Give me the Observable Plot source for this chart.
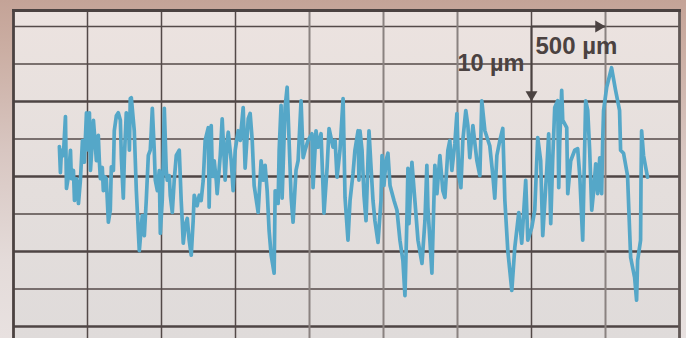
<!DOCTYPE html>
<html>
<head>
<meta charset="utf-8">
<script src="https://cdn.jsdelivr.net/npm/d3@7"></script>
<script src="https://cdn.jsdelivr.net/npm/@observablehq/plot@0.6"></script>
<style>
  html, body { margin: 0; padding: 0; }
  body {
    width: 686px; height: 338px; overflow: hidden;
    background: linear-gradient(180deg, #c4a397 0px, #cbaea3 50px, #d8c6c1 150px, #e4dbd9 260px, #e8e1e0 338px);
  }
  #chart svg { display: block; }
</style>
</head>
<body>
<div id="chart"></div>
<script>
// Surface profile: position along the scan (µm) and height (µm)
const profileX = [310,317,324,337,351,358,371,385,391,405,412,425,439,452,466,479,493,506,513,520,533,540,553,560,573,580,587,600,607,614,627,634,641,654,661,675,681,695,708,722,729,742,749,762,776,783,789,796,816,830,843,850,870,884,897,911,924,931,938,951,958,972,985,992,1005,1012,1019,1032,1039,1053,1059,1073,1086,1100,1120,1133,1140,1147,1160,1174,1187,1201,1214,1221,1241,1255,1268,1282,1295,1316,1322,1329,1336,1343,1349,1356,1370,1376,1397,1410,1424,1430,1444,1451,1471,1484,1498,1518,1532,1552,1565,1586,1599,1613,1626,1653,1673,1687,1700,1714,1727,1741,1761,1768,1788,1795,1808,1815,1835,1849,1862,1876,1889,1909,1923,1943,1957,1970,1990,2017,2024,2044,2058,2078,2098,2119,2132,2159,2173,2186,2206,2227,2240,2260,2274,2294,2307,2328,2334,2341,2355,2368,2382,2395,2402,2415,2429,2442,2463,2483,2490,2503,2517,2530,2544,2571,2591,2611,2631,2645,2658,2665,2672,2692,2712,2733,2760,2780,2793,2800,2827,2847,2861,2881,2901,2915,2935,2948,2962,2982,2996,3009,3023,3036,3056,3070,3083,3104,3131,3151,3158,3164,3185,3218,3239,3252,3266,3286,3306,3320,3340,3367,3387,3414,3434,3461,3475,3502,3522,3542,3562,3576,3603,3616,3630,3643,3657,3677,3684,3691,3704,3711,3738,3745,3765,3792,3812,3826,3846,3866,3880,3893,3907,3920,3934,3947,3961,3974,3981,3987,4008,4041,4068,4095,4102,4122,4149,4163,4170,4197,4210,4217,4237,4240,4244,4257,4284];
const profileZ = [4.0,0.5,3.5,2.8,8.0,-1.6,0,3.5,-0.3,0.8,-3.2,-0.3,-3.6,-0.5,4.8,1.9,8.5,3.5,8.5,0.8,4.8,7.5,4.1,2.1,5.5,2.1,-0.3,1.2,-1.9,0,-0.3,-3.2,-6.1,-4.5,1.3,0.8,6.1,8.1,8.5,7.5,2.4,-2.9,2.4,8.5,7.9,3.5,10.4,10.5,6.1,-1.9,-7.2,-9.9,-5.2,-7.9,-3.2,2.8,3.5,6.1,9.1,3.5,-0.5,-1.9,0.8,-7.6,-3.2,2.1,9.1,0.8,-0.5,0.1,-2.5,-4.8,-0.5,2.8,3.5,-3.2,-5.9,-8.9,-6.5,-5.6,-8.5,-10.5,-5.9,-2.5,-3.9,-2.5,-3.2,-0.5,4.8,6.5,-4.1,3.5,6.8,0.8,0,2.1,-0.5,-2.3,2.8,7.7,2.1,-0.5,4.8,5.9,2.1,-1.9,3.5,6.1,4.8,9.2,1.1,7.7,8.4,4.8,-1.2,-4.8,2.1,-0.5,1.5,-1.9,-7.2,-10.5,-12.9,-1.9,-3.6,3.5,9.5,-2.9,9.2,11.9,4.8,-2.8,-6.1,0.8,2.1,10.1,2.5,3.5,4.8,5.7,-1.5,6.1,3.9,5.7,-4.9,1.2,6.4,3.9,4.8,-0.1,3.5,10.4,-2.8,-8.5,-3.2,0.4,3.5,6.1,-0.5,6.1,3.5,-2.5,-5.9,2.1,6.1,1.5,-3.2,-5.9,-8.8,-3.2,2.8,-1.2,2.1,3.1,-1.2,-3.2,-4.5,-8.5,-11.2,-15.9,-5.9,1.1,-6.3,1.9,-3.2,-8.5,-11.6,-5.9,1.5,-4.1,-12.9,1.5,-2.3,2.8,-1.9,-2.8,3.5,4.8,0.8,4.4,8.4,0.1,-1.5,4.8,8.8,6.8,2.5,6.8,2.1,0.1,5.5,10.1,6.1,4.1,0.1,-2.9,2.8,4.8,6.4,-3.2,-9.9,-15.2,-9.5,-4.8,-8.9,-0.5,-8.5,-6.8,-4.5,5.2,2.1,-7.9,0.8,5.7,-6.3,2.1,9.2,10.1,-1.5,4.8,11.5,7.5,6.5,-2.3,2.1,3.5,3.7,0.1,-8.5,10.1,8.8,3.5,-4.5,-1.9,1.7,-2.3,2.5,-2.3,4.8,8.8,11.9,14.5,11.5,8.8,3.5,3.1,0.1,-7.2,-10.8,-13.5,-16.5,-11.2,-8.5,-0.5,6.1,2.8,-0.1];

// Grid (µm)
const xGridDark = [500, 1000, 1500, 3500];
const xGridLight = [2000, 2500, 3000, 4000];
const xEdges = [0, 4500];
const zGridMajor = [10, 0, -10, -20];
const zGridMinor = [20, 15, 5, -5, -15];

// Scale bar: corner position, horizontal and vertical lengths (µm)
const scaleBar = [{x: 3500, z: 20, dx: 500, dz: 10}];
const scaleLabels = ["500 µm", "10 µm"];

const profile = profileX.map((x, i) => ({x, z: profileZ[i]}));

const defs = () => {
  const d = d3.create("svg:defs");
  const g = d.append("linearGradient").attr("id", "paper")
    .attr("x1", 0).attr("y1", 0).attr("x2", 0).attr("y2", 1);
  g.append("stop").attr("offset", "0%").attr("stop-color", "#ece3e0");
  g.append("stop").attr("offset", "55%").attr("stop-color", "#e4dedc");
  g.append("stop").attr("offset", "100%").attr("stop-color", "#dfdbda");
  return d.node();
};

const ink = "#4b4241";
const font = "Liberation Sans, Arial, Helvetica, sans-serif";

const chart = Plot.plot({
  width: 686,
  height: 338,
  marginLeft: 13,
  marginRight: 7,
  marginTop: 10,
  marginBottom: 0,
  x: {domain: [0, 4500], axis: null},
  y: {domain: [-21.6, 22.13], axis: null},
  style: {background: "transparent", overflow: "hidden"},
  marks: [
    defs,
    Plot.frame({fill: "url(#paper)", stroke: null}),
    Plot.ruleY(zGridMinor, {stroke: "#544a49", strokeWidth: 1.6}),
    Plot.ruleY(zGridMajor, {stroke: "#4e4544", strokeWidth: 2.6}),
    Plot.ruleX(xGridDark, {stroke: "#534948", strokeWidth: 1.5}),
    Plot.ruleX(xGridLight, {stroke: "#8a8280", strokeWidth: 2}),
    Plot.ruleX(xEdges, {stroke: (d) => d === 0 ? "#4b4241" : "#615856", strokeWidth: 2.8}),
    Plot.frame({anchor: "top", stroke: ink, strokeWidth: 3}),
    Plot.line(profile, {x: "x", y: "z", stroke: "#55a7c8", strokeWidth: 3.7, strokeLinejoin: "round", strokeLinecap: "round"}),
    // scale bar arrows
    Plot.link(scaleBar, {x1: "x", y1: "z", x2: "x", y2: (d) => d.z - d.dz, stroke: ink, strokeWidth: 2}),
    Plot.link(scaleBar, {x1: "x", y1: "z", x2: (d) => d.x + d.dx, y2: "z", stroke: ink, strokeWidth: 2}),
    Plot.dot(scaleBar, {x: "x", y: (d) => d.z - d.dz, symbol: "triangle", r: 4.4, fill: ink, stroke: null, rotate: 180, dy: -6.8}),
    Plot.dot(scaleBar, {x: (d) => d.x + d.dx, y: "z", symbol: "triangle", r: 4.4, fill: ink, stroke: null, rotate: 90, dx: -6.8}),
    Plot.text(scaleBar, {x: "x", y: "z", text: () => scaleLabels[0], textAnchor: "start", dx: 4, dy: 19.5,
      fontSize: 24, fontWeight: "bold", fontFamily: font, fill: ink}),
    Plot.text(scaleBar, {x: "x", y: (d) => d.z - d.dz / 2, text: () => scaleLabels[1], textAnchor: "end", dx: -7, dy: -0.8,
      fontSize: 23.5, fontWeight: "bold", fontFamily: font, fill: ink})
  ]
});

document.getElementById("chart").appendChild(chart);
</script>
</body>
</html>
